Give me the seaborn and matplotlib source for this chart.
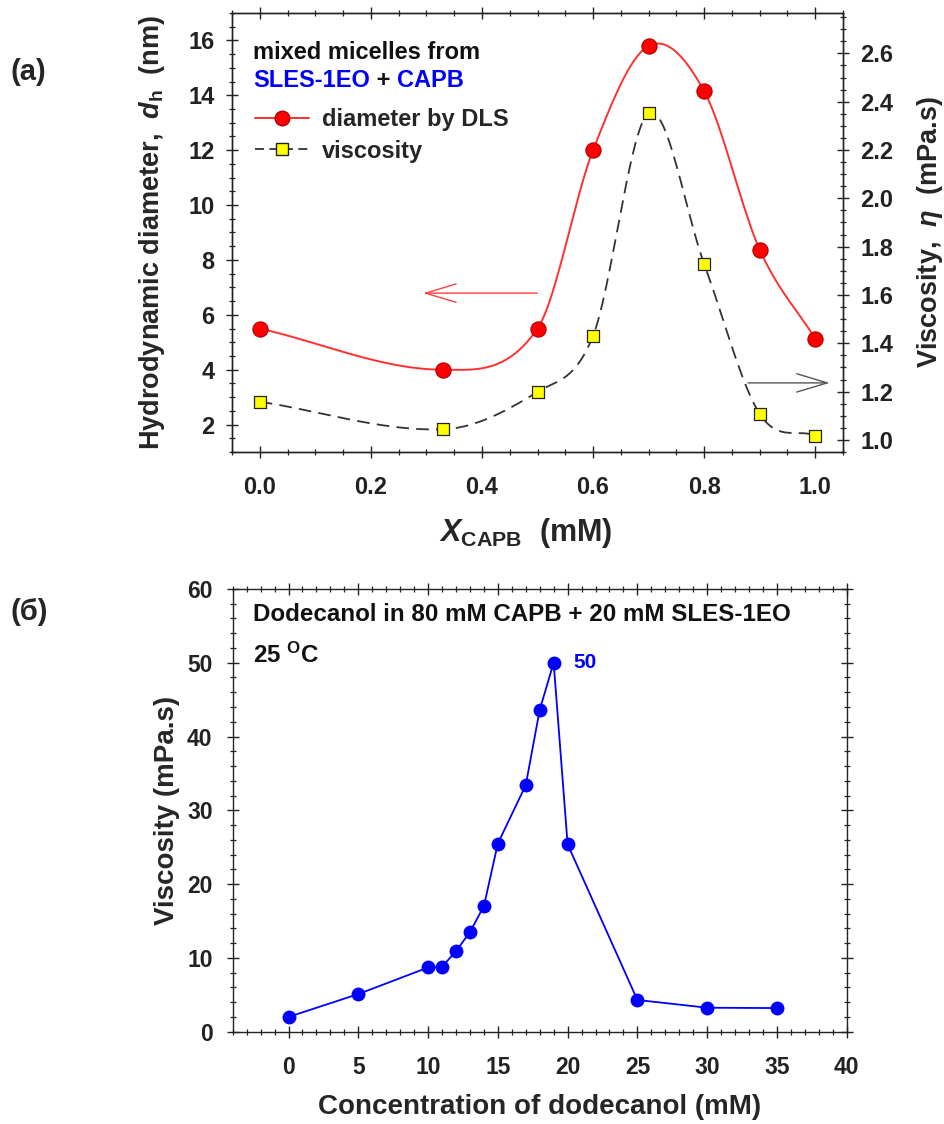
import numpy as np
import pandas as pd
import seaborn as sns
import matplotlib
matplotlib.use("Agg")
import matplotlib.pyplot as plt
from matplotlib.lines import Line2D
from matplotlib.patches import ArrowStyle
from matplotlib.ticker import MultipleLocator, FormatStrFormatter

# ---------------- data ----------------
# panel (a)
x_capb = [0.0, 0.33, 0.5, 0.6, 0.7, 0.8, 0.9, 1.0]
diam_dls = [5.5, 4.0, 5.5, 12.0, 15.8, 14.15, 8.38, 5.13]
visc_a = [1.158, 1.044, 1.199, 1.431, 2.353, 1.729, 1.108, 1.018]
yticks_left = [2, 4, 6, 8, 10, 12, 14, 16]
yticks_right = [1.0, 1.2, 1.4, 1.6, 1.8, 2.0, 2.2, 2.4, 2.6]
xticks_a = [0.0, 0.2, 0.4, 0.6, 0.8, 1.0]

# panel (b)
dodecanol = [0, 5, 10, 11, 12, 13, 14, 15, 17, 18, 19, 20, 25, 30, 35]
visc_b = [2.0, 5.1, 8.7, 8.8, 10.9, 13.5, 17.0, 25.5, 33.4, 43.6, 50.0, 25.4, 4.3, 3.25, 3.2]
xticks_b = [0, 5, 10, 15, 20, 25, 30, 35, 40]
yticks_b = [0, 10, 20, 30, 40, 50, 60]

# ---------------- style ----------------
sns.set_theme(style="ticks")
plt.rcParams["font.family"] = ["Liberation Sans", "DejaVu Sans"]
plt.rcParams["font.weight"] = "bold"
plt.rcParams["mathtext.fontset"] = "custom"
plt.rcParams["mathtext.rm"] = "Liberation Sans"
plt.rcParams["mathtext.it"] = "Liberation Sans:italic"
plt.rcParams["mathtext.bf"] = "Liberation Sans:bold"
plt.rcParams["axes.linewidth"] = 1.0
plt.rcParams["axes.edgecolor"] = "#222222"


def hermite_curve(x, y, per_seg=80):
    """Smooth cubic Hermite curve through the points (centred-difference tangents)."""
    x = np.asarray(x, float)
    y = np.asarray(y, float)
    n = len(x)
    m = np.zeros(n)
    m[0] = (y[1] - y[0]) / (x[1] - x[0])
    m[-1] = (y[-1] - y[-2]) / (x[-1] - x[-2])
    for i in range(1, n - 1):
        m[i] = (y[i + 1] - y[i - 1]) / (x[i + 1] - x[i - 1])
    xs_all, ys_all = [], []
    for i in range(n - 1):
        h = x[i + 1] - x[i]
        t = np.linspace(0, 1, per_seg, endpoint=(i == n - 2))
        h00 = 2 * t ** 3 - 3 * t ** 2 + 1
        h10 = t ** 3 - 2 * t ** 2 + t
        h01 = -2 * t ** 3 + 3 * t ** 2
        h11 = t ** 3 - t ** 2
        xs_all.append(x[i] + t * h)
        ys_all.append(h00 * y[i] + h10 * h * m[i] + h01 * y[i + 1] + h11 * h * m[i + 1])
    return np.concatenate(xs_all), np.concatenate(ys_all)


def style_ticks(ax, sides_top=True, sides_right=False):
    ax.tick_params(axis="both", which="both", direction="inout", colors="#222222",
                   top=sides_top, right=sides_right, labeltop=False, labelright=False)
    ax.tick_params(which="major", length=9, width=1.0)
    ax.tick_params(which="minor", length=5, width=0.9)


fig = plt.figure(figsize=(9.44, 11.24), dpi=100)
fig.patch.set_facecolor("white")

# ================= panel (a) =================
ax1 = fig.add_axes([232 / 944, 1 - 452 / 1124, (843 - 232) / 944, (452 - 13) / 1124])
ax2 = ax1.twinx()

xs, ys = hermite_curve(x_capb, diam_dls)
sns.lineplot(x=xs, y=ys, ax=ax1, color="#ff3030", lw=1.4, sort=False, estimator=None, zorder=3)
sns.scatterplot(x=x_capb, y=diam_dls, ax=ax1, color="#ff0000", edgecolor="#b00000",
                s=120, marker="o", linewidth=0.8, zorder=5)

xs2, ys2 = hermite_curve(x_capb, visc_a)
sns.lineplot(x=xs2, y=ys2, ax=ax2, color="#333333", lw=1.3, sort=False, estimator=None,
             zorder=3).lines[0].set_dashes([7, 4])
sns.scatterplot(x=x_capb, y=visc_a, ax=ax2, color="#ffff00", edgecolor="#222222",
                s=80, marker="s", linewidth=0.9, zorder=5)

ax1.set_xlim(-0.05, 1.05)
ax1.set_ylim(1, 17)
ax2.set_ylim(0.95, 2.767)
ax1.set_xticks(xticks_a)
ax1.xaxis.set_minor_locator(MultipleLocator(0.05))
ax1.xaxis.set_major_formatter(FormatStrFormatter("%.1f"))
ax1.set_yticks(yticks_left)
ax1.yaxis.set_minor_locator(MultipleLocator(0.5))
ax2.set_yticks(yticks_right)
ax2.yaxis.set_minor_locator(MultipleLocator(0.05))
ax2.yaxis.set_major_formatter(FormatStrFormatter("%.1f"))

style_ticks(ax1, sides_top=True, sides_right=False)
ax2.tick_params(axis="y", which="both", direction="inout", colors="#222222",
                right=True, left=False, labelright=True, labelleft=False)
ax2.tick_params(which="major", length=9, width=1.0)
ax2.tick_params(which="minor", length=5, width=0.9)
ax1.tick_params(axis="x", labelsize=17, pad=13)
ax1.tick_params(axis="y", labelsize=17, pad=8)
ax2.tick_params(axis="y", labelsize=17, pad=8)
for lab in ax1.get_xticklabels() + ax1.get_yticklabels() + ax2.get_yticklabels():
    lab.set_fontweight("bold")

ax1.set_ylabel(r"Hydrodynamic diameter,  $d_\mathrm{h}$  (nm)", fontsize=19.5, fontweight="bold")
ax1.yaxis.set_label_coords(-0.106, 0.5)
ax2.set_ylabel(r"Viscosity,  $\eta$  (mPa.s)", fontsize=19.5, fontweight="bold")
ax2.yaxis.set_label_coords(1.118, 0.5)
ax1.set_xlabel(r"$X_{\mathrm{CAPB}}$  (mM)", fontsize=22, fontweight="bold")
ax1.xaxis.set_label_coords(0.48, -0.145)
ax2.grid(False)
ax1.grid(False)

# header texts
ax1.text(0.034, 0.911, "mixed micelles from", transform=ax1.transAxes, fontsize=17,
         fontweight="bold", color="#111111", va="center", ha="left")
t1 = ax1.text(0.034, 0.847, "SLES-1EO", transform=ax1.transAxes, fontsize=17,
              fontweight="bold", color="#0000ff", va="center", ha="left")
t2 = ax1.annotate(" + ", xy=(1, 0.5), xycoords=t1, fontsize=17, fontweight="bold",
                  color="#111111", va="center", ha="left")
ax1.annotate("CAPB", xy=(1, 0.5), xycoords=t2, fontsize=17, fontweight="bold",
             color="#0000ff", va="center", ha="left")

handles = [
    Line2D([], [], color="#ff3030", lw=1.4, marker="o", ms=10.5, mfc="#ff0000", mec="#b00000"),
    Line2D([], [], color="#333333", lw=1.3, ls=(0, (5, 3)), marker="s", ms=8, mfc="#ffff00", mec="#222222"),
]
leg = ax1.legend(handles, ["diameter by DLS", "viscosity"], loc="upper left",
                 bbox_to_anchor=(0.037, 0.783), frameon=False, fontsize=17,
                 handlelength=2.3, handletextpad=0.55, labelspacing=0.35,
                 borderpad=0, borderaxespad=0)
for txt in leg.get_texts():
    txt.set_fontweight("bold")

# arrows
y_arrow_left = 6.79
ax1.annotate("", xy=(0.294, y_arrow_left), xytext=(0.5, y_arrow_left),
             arrowprops=dict(arrowstyle=ArrowStyle("->", head_length=1.0, head_width=0.3),
                             mutation_scale=22, color="#ff4040", lw=1.0,
                             shrinkA=0, shrinkB=0))
y_arrow_right = 1.236
ax2.annotate("", xy=(1.026, y_arrow_right), xytext=(0.879, y_arrow_right),
             arrowprops=dict(arrowstyle=ArrowStyle("->", head_length=1.0, head_width=0.3),
                             mutation_scale=22, color="#555555", lw=1.0,
                             shrinkA=0, shrinkB=0))

# ================= panel (b) =================
ax3 = fig.add_axes([232.7 / 944, 1 - 1031.7 / 1124, (846.7 - 232.7) / 944, (1031.7 - 588.9) / 1124])
df_b = pd.DataFrame({"dodecanol": dodecanol, "viscosity": visc_b})
sns.lineplot(data=df_b, x="dodecanol", y="viscosity", ax=ax3, color="#0000ff", lw=1.3,
             sort=False, estimator=None, zorder=3)
sns.scatterplot(data=df_b, x="dodecanol", y="viscosity", ax=ax3, color="#0000ff",
                edgecolor="#0000ff", s=100, marker="o", linewidth=0, zorder=5)
ax3.set_xlim(-4, 40)
ax3.set_ylim(0, 60)
ax3.set_xticks(xticks_b)
ax3.set_yticks(yticks_b)
ax3.xaxis.set_minor_locator(MultipleLocator(1))
ax3.yaxis.set_minor_locator(MultipleLocator(2))
style_ticks(ax3, sides_top=True, sides_right=True)
ax3.tick_params(axis="x", labelsize=16.5, pad=13)
ax3.tick_params(axis="y", labelsize=16.5, pad=10)
for lab in ax3.get_xticklabels() + ax3.get_yticklabels():
    lab.set_fontweight("bold")
ax3.grid(False)
ax3.set_ylabel("Viscosity (mPa.s)", fontsize=20, fontweight="bold")
ax3.yaxis.set_label_coords(-0.086, 0.5)
ax3.set_xlabel("Concentration of dodecanol (mM)", fontsize=20, fontweight="bold")
ax3.xaxis.set_label_coords(0.5, -0.141)

ax3.text(0.033, 0.943, "Dodecanol in 80 mM CAPB + 20 mM SLES-1EO", transform=ax3.transAxes,
         fontsize=17.4, fontweight="bold", color="#111111", va="center", ha="left")
ax3.text(0.033, 0.851, r"25 $^{\mathbf{O}}$C", transform=ax3.transAxes,
         fontsize=17.4, fontweight="bold", color="#111111", va="center", ha="left")

i_max = int(np.argmax(visc_b))
ax3.annotate(f"{visc_b[i_max]:.0f}", xy=(dodecanol[i_max], visc_b[i_max]), xytext=(14, 0),
             textcoords="offset points", fontsize=15, fontweight="bold", color="#0000ff",
             va="center", ha="left")

# panel letters
fig.text(10 / 944, 1 - 72 / 1124, "(a)", fontsize=21, fontweight="bold", va="center", ha="left")
fig.text(10 / 944, 1 - 612 / 1124, "(б)", fontsize=21, fontweight="bold", va="center", ha="left")

fig.savefig("out.png", dpi=100, facecolor="white")
